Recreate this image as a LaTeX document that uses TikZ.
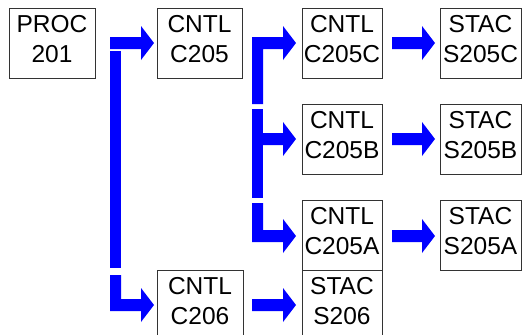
\documentclass[tikz,border=0pt]{standalone}
\usepackage{fontspec}
\setmainfont{Liberation Sans}
\begin{document}
\begin{tikzpicture}[x=1pt,y=-1pt,
  box/.style={draw=black!80, line width=0.9pt, inner sep=0pt, minimum height=70pt},
  lbl/.style={align=center, inner sep=0pt, font=\fontsize{24.5pt}{30pt}\selectfont},
  fat/.style={fill={rgb,255:red,0;green,0;blue,255}}]
\useasboundingbox (0,0) rectangle (523,335);
\newcommand\harrow[3]{\fill[fat] (#1,#3-6) -- (#2-13,#3-6) -- (#2-13,#3-17) -- (#2,#3) -- (#2-13,#3+17) -- (#2-13,#3+6) -- (#1,#3+6) -- cycle;}
% boxes
\node[box, minimum width=86pt] (p201) at (52,43) {};
\node[box, minimum width=85pt] (c205) at (199.5,43) {};
\node[box, minimum width=80pt] (c205c) at (342,43) {};
\node[box, minimum width=81pt] (s205c) at (480.5,43) {};
\node[box, minimum width=80pt] (c205b) at (342,139) {};
\node[box, minimum width=81pt] (s205b) at (480.5,139) {};
\node[box, minimum width=80pt] (c205a) at (342,235.5) {};
\node[box, minimum width=81pt] (s205a) at (480.5,235) {};
\node[box, minimum width=86pt] (c206) at (200,305) {};
\node[box, minimum width=80pt] (s206) at (342,305) {};
% labels
\node[lbl] (tp201) at ([yshift=4pt]p201.center) {PROC\\201};
\node[lbl] (tc205) at ([yshift=4pt]c205.center) {CNTL\\C205};
\node[lbl] (tc205c) at ([yshift=4pt]c205c.center) {CNTL\\C205C};
\node[lbl] (ts205c) at ([yshift=4pt]s205c.center) {STAC\\S205C};
\node[lbl] (tc205b) at ([yshift=4pt]c205b.center) {CNTL\\C205B};
\node[lbl] (ts205b) at ([yshift=4pt]s205b.center) {STAC\\S205B};
\node[lbl] (tc205a) at ([yshift=4pt]c205a.center) {CNTL\\C205A};
\node[lbl] (ts205a) at ([yshift=4pt]s205a.center) {STAC\\S205A};
\node[lbl] (tc206) at ([yshift=4pt]c206.center) {CNTL\\C206};
\node[lbl] (ts206) at ([yshift=4pt]s206.center) {STAC\\S206};
% arrows
\harrow{110}{154}{43}
\fill[fat] (110,50.5) rectangle (121,268);
\fill[fat] (110,275) -- (121,275) -- (121,299) -- (141,299) -- (141,288) -- (154,305) -- (141,322) -- (141,311) -- (110,311) -- cycle;
\fill[fat] (252,37) -- (283,37) -- (283,26) -- (296,43) -- (283,60) -- (283,49) -- (263,49) -- (263,104) -- (252,104) -- cycle;
\fill[fat] (252,109) rectangle (263,198);
\harrow{252}{296}{139}
\fill[fat] (252,203) -- (263,203) -- (263,230) -- (283,230) -- (283,219) -- (296,236) -- (283,253) -- (283,242) -- (252,242) -- cycle;
\harrow{392}{435}{43}
\harrow{392}{435}{139}
\harrow{392}{435}{236}
\harrow{252}{296}{305}
\end{tikzpicture}
\end{document}
